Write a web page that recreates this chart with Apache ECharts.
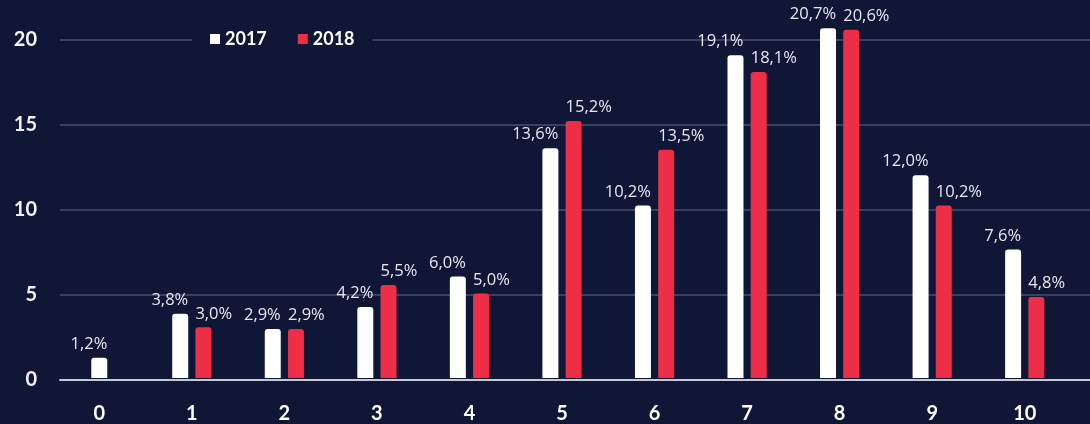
<!DOCTYPE html>
<html>
<head>
<meta charset="utf-8">
<script src="https://cdn.jsdelivr.net/npm/echarts@6/dist/echarts.min.js"></script>
<style>
html,body{margin:0;padding:0;background:#0f1636;}
#c{width:1090px;height:424px;}
</style>
</head>
<body>
<div id="c"></div>
<script>
const categories = ['0','1','2','3','4','5','6','7','8','9','10'];
const values2017 = [1.2, 3.8, 2.9, 4.2, 6.0, 13.6, 10.2, 19.1, 20.7, 12.0, 7.6];
const values2018 = [null, 3.0, 2.9, 5.5, 5.0, 15.2, 13.5, 18.1, 20.6, 10.2, 4.8];
const yTicks = [0, 5, 10, 15, 20];
const seriesNames = ['2017', '2018'];

const BG = '#0f1636';
const WHITE = '#ffffff';
const RED = '#ee2d47';

// categories where 2018 is missing get a centred solo 2017 bar
const solo2017 = values2017.map((v, i) => values2018[i] == null ? v : null);
const paired2017 = values2017.map((v, i) => values2018[i] == null ? null : v);

const fmt = p => p.value == null ? '' : p.value.toFixed(1).replace('.', ',') + '%';
const labelBase = {
  show: true,
  color: '#e8e8f0',
  fontFamily: 'Open Sans',
  fontSize: 16.5,
  verticalAlign: 'bottom',
  formatter: fmt
};

const chart = echarts.init(document.getElementById('c'), null, {renderer: 'canvas'});
chart.setOption({
  backgroundColor: BG,
  animation: false,
  legend: {
    data: seriesNames,
    left: 192,
    top: 27,
    padding: [3, 18, 3, 18],
    backgroundColor: BG,
    itemWidth: 10,
    itemHeight: 10,
    itemGap: 31,
    icon: 'rect',
    textStyle: {color: WHITE, fontFamily: 'Lato', fontWeight: 'bold', fontSize: 18}
  },
  grid: [
    {left: 53, right: 19, top: 40, bottom: 44.5, containLabel: false},
    {left: 60, right: 0, top: 40, bottom: 44.5, containLabel: false}
  ],
  xAxis: [
    {
      type: 'category', gridIndex: 0, data: categories,
      axisLine: {show: false}, axisTick: {show: false},
      axisLabel: {color: WHITE, fontFamily: 'Lato', fontWeight: 'bold', fontSize: 20, margin: 26}
    },
    {
      type: 'value', gridIndex: 1, min: 0, max: 1, show: true,
      axisLine: {show: true, lineStyle: {color: '#c6c8d8', width: 2}},
      axisTick: {show: false}, axisLabel: {show: false}, splitLine: {show: false}
    },
    {
      type: 'category', gridIndex: 0, data: categories, show: false
    }
  ],
  yAxis: [
    {
      type: 'value', gridIndex: 0, min: 0, max: 20, interval: 5, show: false
    },
    {
      type: 'value', gridIndex: 1, min: yTicks[0], max: yTicks[yTicks.length - 1], interval: 5,
      axisLine: {show: false}, axisTick: {show: false},
      axisLabel: {color: '#f2f2f7', fontFamily: 'Lato', fontWeight: 'bold', fontSize: 20, margin: 23},
      splitLine: {lineStyle: {color: '#3c3f60', width: 2}}
    }
  ],
  series: [
    {
      name: seriesNames[0], type: 'bar', xAxisIndex: 0, yAxisIndex: 0,
      data: paired2017, barWidth: 16, barGap: '45%', clip: false,
      itemStyle: {color: WHITE, borderRadius: [3, 3, 0, 0]},
      label: Object.assign({}, labelBase, {position: ['100%', -5], align: 'right'})
    },
    {
      name: seriesNames[1], type: 'bar', xAxisIndex: 0, yAxisIndex: 0,
      data: values2018, barWidth: 16, barGap: '45%', clip: false,
      itemStyle: {color: RED, borderRadius: [3, 3, 0, 0]},
      label: Object.assign({}, labelBase, {position: [0, -5], align: 'left'})
    },
    {
      name: seriesNames[0], type: 'bar', xAxisIndex: 2, yAxisIndex: 0,
      data: solo2017, barWidth: 16, clip: false,
      itemStyle: {color: WHITE, borderRadius: [3, 3, 0, 0]},
      label: Object.assign({}, labelBase, {position: ['100%', -5], align: 'right'})
    }
  ]
});
</script>
</body>
</html>
